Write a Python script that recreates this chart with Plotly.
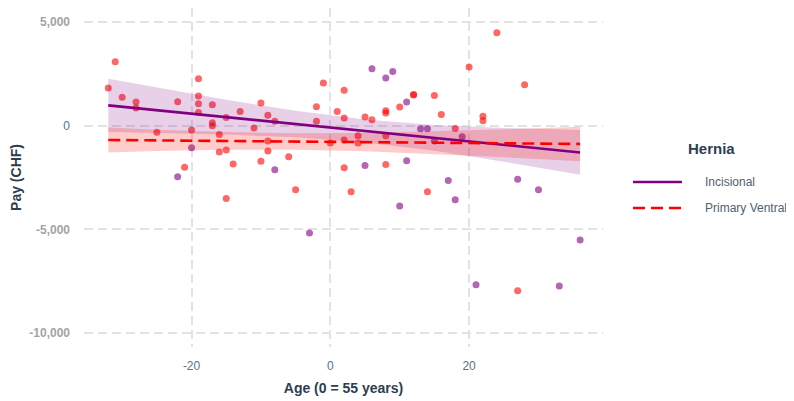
import plotly.graph_objects as go

# ---- Data ----
# Incisional hernia points: age offset (0 = 55 years), pay (CHF)
inc_age = [-22, -20, -8, -3, 5, 6, 8, 9, 10, 11, 11, 13, 14, 15, 17, 18, 19, 21, 27, 30, 33, 36]
inc_pay = [-2460, -1060, -2130, -5180, -1920, 2750, 2300, 2620, -3880, 1140, -1690, -145, -145, -740,
           -2640, -3570, -530, -7670, -2590, -3090, -7740, -5520]

# Primary ventral hernia points
pv_age = [-32, -31, -30, -28, -28, -25, -22, -21, -20, -19, -19, -19, -19, -17, -17, -17, -16, -15, -16,
          -15, -14, -15, -13, -11, -10, -9, -8, -9, -9, -10, -6, -5, -2, -2, -1, 0, 1, 2, 2, 2, 2, 3, 4,
          4, 5, 6, 8, 8, 8, 8, 10, 12, 12, 14, 15, 16, 18, 20, 22, 22, 24, 27, 28]
pv_pay = [1820, 3090, 1370, 1140, 855, -320, 1160, -2000, -210, 2270, 1430, 1060, 640, 1010, 145, 0, -420,
          390, -1270, -1170, -1850, -3510, 680, -110, 1100, 500, 210, -740, -1220, -1710, -1500, -3090,
          920, 210, 2060, -840, 690, 1710, 370, -690, -2030, -3190, -480, -840, 420, 290, 725, 610, -480,
          -1870, 900, 1510, 1480, -3190, 1460, 545, -130, 2830, 450, 240, 4480, -7960, 1980]

# Fitted lines and confidence bands
fit_age = [-32, -25, -15, -5, 5, 15, 25, 36]
inc_fit = [980, 746, 412, 78, -256, -589, -923, -1290]
inc_upper = [2270, 1837, 1252, 718, 294, 33, -111, -210]
inc_lower = [-310, -345, -428, -562, -806, -1211, -1735, -2370]
pv_fit = [-690, -710, -737, -765, -793, -821, -849, -880]
pv_upper = [-90, -197, -310, -364, -347, -276, -176, -50]
pv_lower = [-1290, -1223, -1164, -1166, -1239, -1366, -1522, -1710]

x_ticks = [-20, 0, 20]
x_ticklabels = ["-20", "0", "20"]
y_ticks = [-10000, -5000, 0, 5000]
y_ticklabels = ["<b>-10,000</b>", "<b>-5,000</b>", "<span style='color:#5b7186'>0</span>", "<b>5,000</b>"]

legend_title = "Hernia"
legend_names = ["Incisional", "Primary Ventral"]

PURPLE = "#800080"
RED = "#ff0000"
FONT = "Liberation Sans, Arial, sans-serif"
DASH = "12px,6px"

fig = go.Figure()

# points
fig.add_trace(go.Scatter(x=inc_age, y=inc_pay, mode="markers", showlegend=False,
                         marker=dict(color="rgba(128,0,128,0.6)", size=7, line=dict(width=0))))
fig.add_trace(go.Scatter(x=pv_age, y=pv_pay, mode="markers", showlegend=False,
                         marker=dict(color="rgba(255,0,0,0.6)", size=7, line=dict(width=0))))

# bands
fig.add_trace(go.Scatter(x=fit_age + fit_age[::-1], y=inc_upper + inc_lower[::-1], fill="toself",
                         fillcolor="rgba(128,0,128,0.18)", line=dict(width=0), mode="lines",
                         hoverinfo="skip", showlegend=False))
fig.add_trace(go.Scatter(x=fit_age + fit_age[::-1], y=pv_upper + pv_lower[::-1], fill="toself",
                         fillcolor="rgba(255,0,0,0.2)", line=dict(width=0), mode="lines",
                         hoverinfo="skip", showlegend=False))

# lines
fig.add_trace(go.Scatter(x=fit_age, y=inc_fit, mode="lines", name=legend_names[0], showlegend=False,
                         line=dict(color=PURPLE, width=2.6)))
fig.add_trace(go.Scatter(x=fit_age, y=pv_fit, mode="lines", name=legend_names[1], showlegend=False,
                         line=dict(color=RED, width=2.6, dash=DASH)))

# ---- manual legend (paper coords; plot area spans page px 84..603 x, 8..347 y) ----
L, R, T, B = 84, 603, 8, 347
def px(xp):
    return (xp - L) / (R - L)
def py(yp):
    return (B - yp) / (B - T)

fig.add_annotation(x=px(711), y=py(148), xref="paper", yref="paper", text="<b>%s</b>" % legend_title,
                   showarrow=False, xanchor="center", yanchor="middle",
                   font=dict(size=15, color="#2c3e50", family=FONT))
for i, (name, col, dash) in enumerate(zip(legend_names, [PURPLE, RED], ["solid", DASH])):
    yy = 182 + 26 * i
    fig.add_shape(type="line", xref="paper", yref="paper", x0=px(633), x1=px(682), y0=py(yy), y1=py(yy),
                  line=dict(color=col, width=2.6, dash=dash))
    fig.add_annotation(x=px(703), y=py(yy), xref="paper", yref="paper", text=name, showarrow=False,
                       xanchor="left", yanchor="middle", font=dict(size=12, color="#51616f", family=FONT))

grid = dict(showgrid=True, gridcolor="#e3e3e3", gridwidth=1.5, griddash="9px,5px",
            zeroline=False, showline=False, ticks="")

fig.update_layout(
    width=794, height=401,
    margin=dict(l=L - 8, r=794 - (R - 8), t=T - 8, b=401 - (B - 8)),
    paper_bgcolor="white", plot_bgcolor="white",
    font=dict(family=FONT),
    showlegend=False,
    xaxis=dict(range=[-35.5, 39.3], tickvals=x_ticks, ticktext=x_ticklabels,
               tickfont=dict(size=12, color="#5b7186"), ticklabelstandoff=10,
               title=dict(text="<b>Age (0 = 55 years)</b>", font=dict(size=14, color="#2c3e50"), standoff=11),
               **grid),
    yaxis=dict(range=[-10680, 5680], tickvals=y_ticks, ticktext=y_ticklabels,
               tickfont=dict(size=12, color="#a3a3a3"), ticklabelstandoff=13,
               title=dict(text="<b>Pay (CHF)</b>", font=dict(size=14, color="#2c3e50"), standoff=5),
               **grid),
)

fig.write_html("out.html")
